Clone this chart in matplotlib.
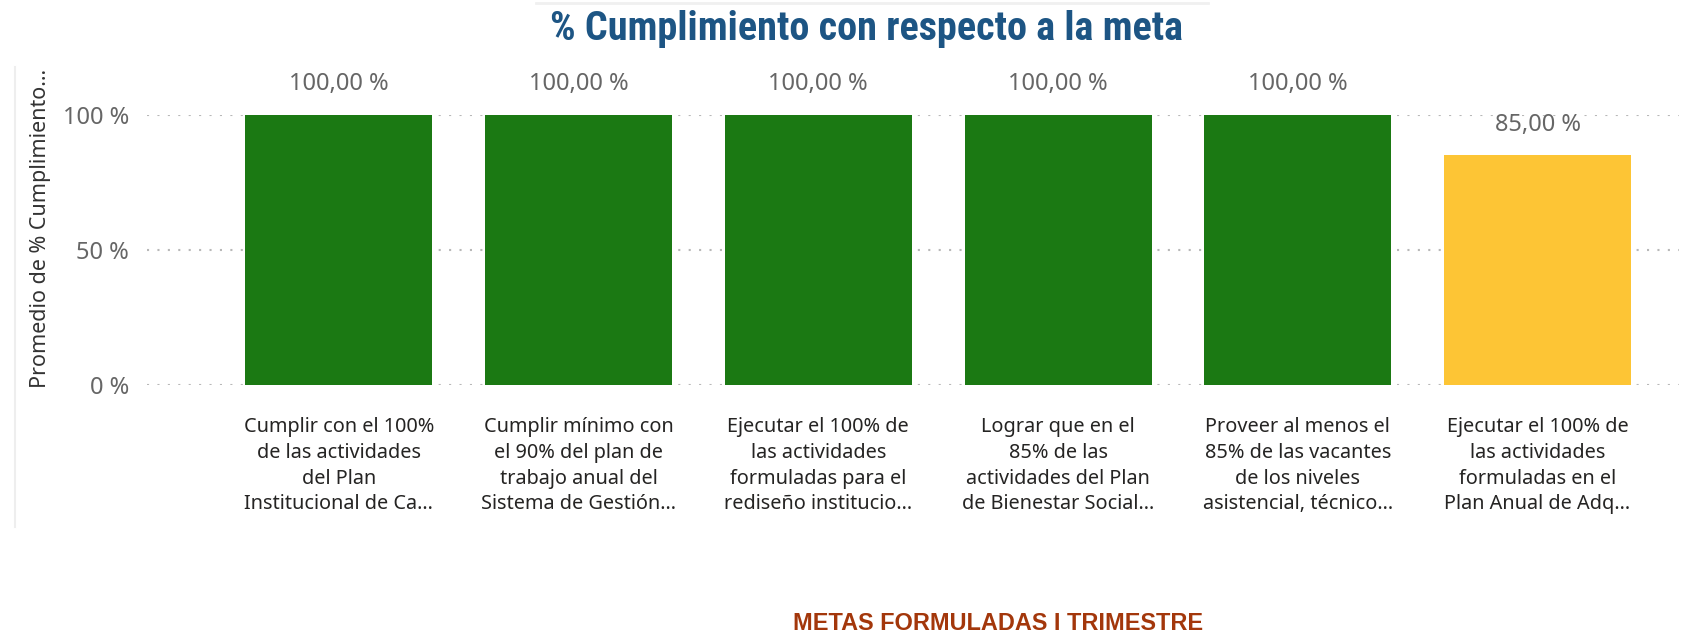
import numpy as np
import matplotlib
matplotlib.use("Agg")
import matplotlib.pyplot as plt
from matplotlib.lines import Line2D
from matplotlib import font_manager

# data
metas = ["Cumplir con el 100%\nde las actividades\ndel Plan\nInstitucional de Ca...",
         "Cumplir mínimo con\nel 90% del plan de\ntrabajo anual del\nSistema de Gestión...",
         "Ejecutar el 100% de\nlas actividades\nformuladas para el\nrediseño institucio...",
         "Lograr que en el\n85% de las\nactividades del Plan\nde Bienestar Social...",
         "Proveer al menos el\n85% de las vacantes\nde los niveles\nasistencial, técnico...",
         "Ejecutar el 100% de\nlas actividades\nformuladas en el\nPlan Anual de Adq..."]
cumplimiento = [100.0, 100.0, 100.0, 100.0, 100.0, 85.0]
colores = ["#1B7913", "#1B7913", "#1B7913", "#1B7913", "#1B7913", "#FDC535"]
yticks = [0, 50, 100]
ytick_labels = ["0 %", "50 %", "100 %"]

names = {f.name for f in font_manager.fontManager.ttflist}
cond = [n for n in ["Roboto Condensed", "Liberation Sans Narrow"] if n in names]
title_font = cond + ["Roboto", "DejaVu Sans"]

W, H = 1688, 633
fig = plt.figure(figsize=(W / 100, H / 100), dpi=100)
fig.patch.set_facecolor("white")

# axes placed in pixel terms
left, right, top, bottom = 147, 1679, 115, 385
ax = fig.add_axes([left / W, 1 - bottom / H, (right - left) / W, (bottom - top) / H])

x = np.arange(len(metas))
bars = ax.bar(x, cumplimiento, width=0.78, color=colores, zorder=3)

ax.set_xlim(-0.80, len(metas) - 1 + 0.59)
ax.set_ylim(0, 100)
for s in ax.spines.values():
    s.set_visible(False)

ax.set_yticks(yticks)
ax.set_yticklabels(ytick_labels, fontfamily="Noto Sans", fontsize=17, color="#666666")
ax.tick_params(axis="y", length=0, pad=13)
ax.yaxis.grid(True, color="#B8B8B8", linestyle=(0, (1, 4)), linewidth=1.5, zorder=0)

ax.set_xticks(x)
ax.set_xticklabels(metas, fontfamily="Noto Sans", fontsize=14.3, color="#252423",
                   linespacing=1.39)
ax.tick_params(axis="x", length=0, pad=23)

ax.set_ylabel("Promedio de % Cumplimiento...", fontfamily="Noto Sans", fontsize=15.5,
              color="#333333")
ax.yaxis.set_label_coords((51 - left) / (right - left), (bottom - 228) / (bottom - top))

for b, v in zip(bars, cumplimiento):
    ax.annotate(f"{v:.2f} %".replace(".", ","), (b.get_x() + b.get_width() / 2, v),
                xytext=(0, 22), textcoords="offset points", ha="center", va="center",
                fontfamily="Noto Sans", fontsize=17, color="#666666", annotation_clip=False)

# title and decorations
fig.text(866 / W, 1 - 29 / H, "% Cumplimiento con respecto a la meta",
         fontfamily=title_font, fontweight="bold",
         fontsize=29, color="#1D5584", ha="center", va="center")
fig.add_artist(Line2D([536 / W, 1208 / W], [1 - 3 / H, 1 - 3 / H], color="#F0F0F0", lw=2))
fig.add_artist(Line2D([15 / W, 15 / W], [1 - 67 / H, 1 - 527 / H], color="#EEEEEE", lw=1.5))

fig.text(998 / W, 1 - 612 / H, "METAS FORMULADAS I TRIMESTRE",
         fontfamily="Liberation Sans", fontweight="bold", fontsize=16.9,
         color="#A3370B", ha="center", va="top")

fig.savefig("out.png", dpi=100, facecolor="white")
